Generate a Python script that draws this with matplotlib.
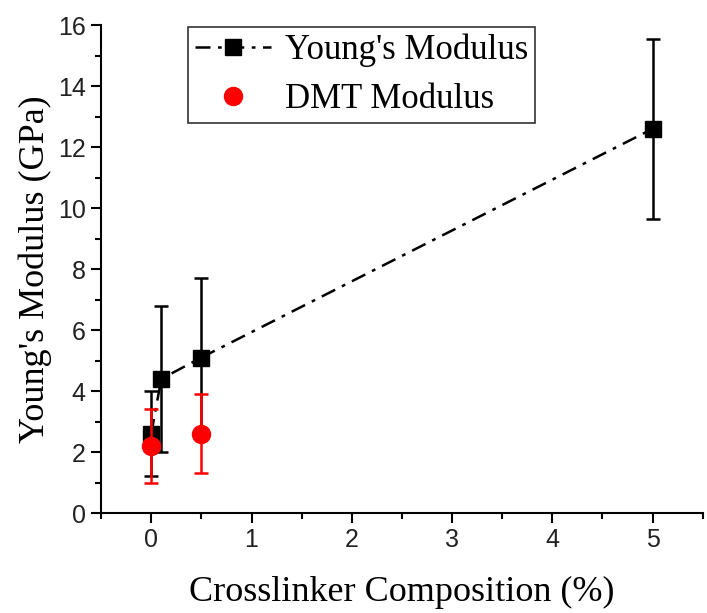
import matplotlib
matplotlib.use("Agg")
import matplotlib.pyplot as plt
from matplotlib.ticker import MultipleLocator

# data
x_young = [0, 0.1, 0.5, 5]
y_young = [2.6, 4.4, 5.1, 12.6]
err_young = [1.4, 2.4, 2.6, 2.95]

x_dmt = [0, 0.5]
y_dmt = [2.2, 2.6]
err_dmt = [1.2, 1.3]

fig = plt.figure(figsize=(7.07, 6.13), dpi=100)
ax = fig.add_axes([0.143, 0.163, 0.851, 0.796])

# error bars (no legend entry)
ax.errorbar(x_young, y_young, yerr=err_young, color="black", linestyle="none",
            elinewidth=1.8, capsize=5, capthick=1.8, zorder=3)
ax.errorbar(x_dmt, y_dmt, yerr=err_dmt, color="red", linestyle="none",
            elinewidth=1.8, capsize=5, capthick=1.8, zorder=4)

# series
ax.plot(x_young, y_young, color="black", marker="s", markersize=12,
        linestyle=(0, (6, 3, 1.5, 3)), linewidth=1.8, label="Young's Modulus", zorder=3)
ax.plot(x_dmt, y_dmt, color="red", marker="o", markersize=13, linestyle="none",
        label="DMT Modulus", zorder=4)

ax.set_xlim(-0.5, 5.5)
ax.set_ylim(0, 16)
ax.xaxis.set_major_locator(MultipleLocator(1))
ax.xaxis.set_minor_locator(MultipleLocator(0.5))
ax.yaxis.set_major_locator(MultipleLocator(2))
ax.yaxis.set_minor_locator(MultipleLocator(1))

for s in ["top", "right"]:
    ax.spines[s].set_visible(False)
for s in ["left", "bottom"]:
    ax.spines[s].set_linewidth(1.5)

ax.tick_params(which="major", direction="out", length=7, width=1.5, labelsize=18, pad=4)
ax.tick_params(which="minor", direction="out", length=4, width=1.5)
for lab in ax.get_xticklabels() + ax.get_yticklabels():
    lab.set_family("Liberation Sans")
    lab.set_color("#222222")

ax.set_xlabel("Crosslinker Composition (%)", family="Liberation Serif", fontsize=26, labelpad=17)
ax.set_ylabel("Young's Modulus (GPa)", family="Liberation Serif", fontsize=26, labelpad=4)

leg = ax.legend(loc="upper left", bbox_to_anchor=(0.1445, 0.997), frameon=True, fancybox=False,
                edgecolor="black", prop={"family": "Liberation Serif", "size": 25},
                handlelength=2.2, borderpad=0.2, labelspacing=0.45, handletextpad=0.4,
                borderaxespad=0)
leg.get_frame().set_linewidth(1.2)

fig.savefig("out.png", dpi=100)
